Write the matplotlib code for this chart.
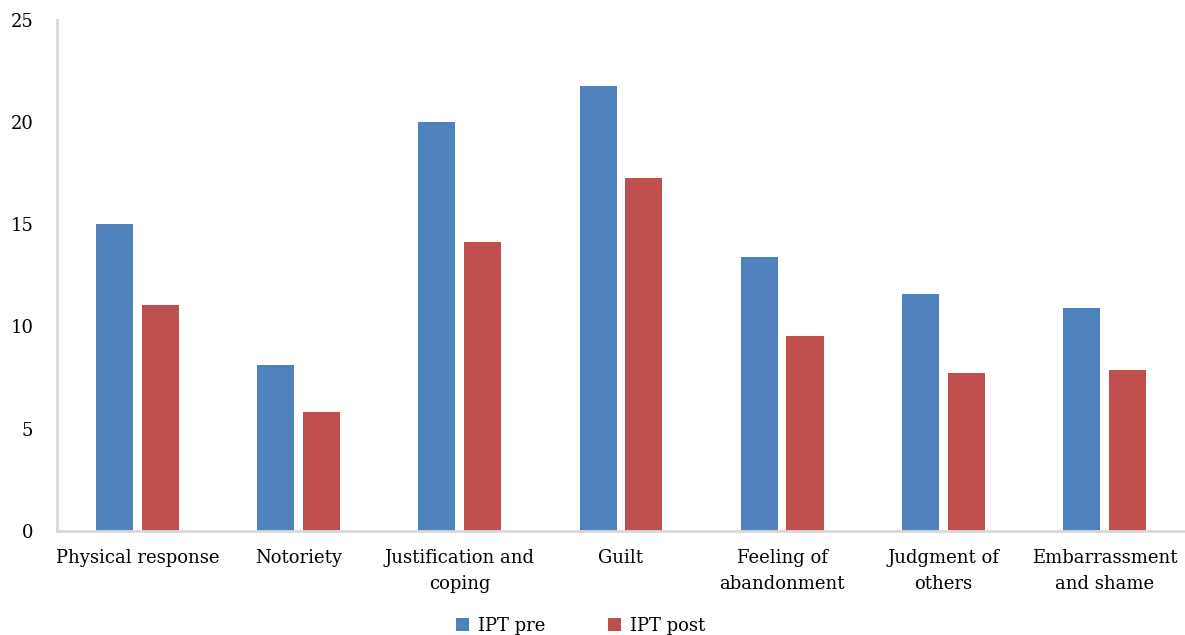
import numpy as np
import matplotlib.pyplot as plt

plt.rcParams['font.family'] = ['DejaVu Serif']

categories = ['Physical response', 'Notoriety', 'Justification and\ncoping', 'Guilt',
              'Feeling of\nabandonment', 'Judgment of\nothers', 'Embarrassment\nand shame']
ipt_pre = [15.0, 8.1, 20.0, 21.75, 13.4, 11.6, 10.9]
ipt_post = [11.05, 5.8, 14.15, 17.25, 9.55, 7.7, 7.85]

fig = plt.figure(figsize=(11.85, 6.35), dpi=100)
ax = fig.add_axes([0.048, 0.164, 0.952, 0.805])

x = np.arange(len(categories))
w = 0.23
ax.bar(x - 0.142, ipt_pre, w, color='#4F81BD', label='IPT pre')
ax.bar(x + 0.142, ipt_post, w, color='#C0504D', label='IPT post')

ax.set_xlim(-0.5, len(categories) - 0.5)
ax.set_ylim(0, 25)
ax.set_yticks([0, 5, 10, 15, 20, 25])
ax.set_xticks(x)
ax.set_xticklabels(categories, fontsize=13, linespacing=1.55)
ax.tick_params(axis='both', length=0, labelsize=13)
ax.tick_params(axis='y', pad=17)
ax.tick_params(axis='x', pad=13)

for s in ['top', 'right']:
    ax.spines[s].set_visible(False)
for s in ['left', 'bottom']:
    ax.spines[s].set_color('#d9d9d9')
    ax.spines[s].set_linewidth(2)

fig.legend(loc='lower center', bbox_to_anchor=(0.49, -0.025), ncol=2, frameon=False,
           fontsize=13, handlelength=0.7, handleheight=0.7, columnspacing=3.5, handletextpad=0.5)

fig.savefig('out.png', dpi=100)
